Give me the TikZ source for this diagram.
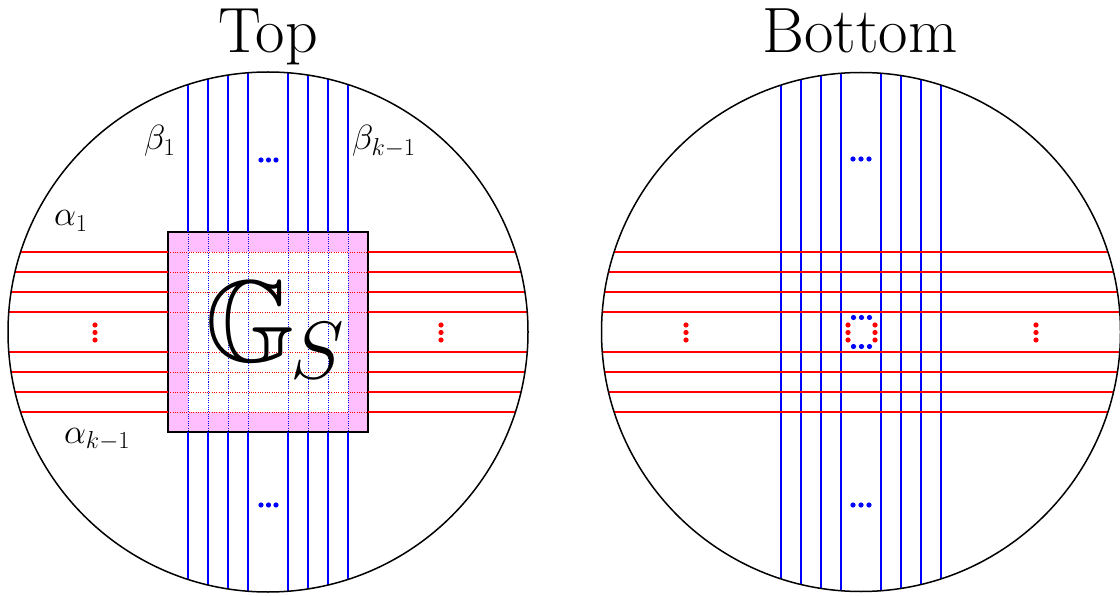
\RequirePackage{fix-cm}
\documentclass[tikz,border=0pt]{standalone}
\IfFileExists{dsfont.sty}{\usepackage{dsfont}}{%
  \IfFileExists{amssymb.sty}{\usepackage{amssymb}\newcommand\mathds{\mathbb}}{\newcommand\mathds{\mathrm}}}
\usetikzlibrary{calc}
\definecolor{pinkfill}{RGB}{255,191,255}
\begin{document}
\begin{tikzpicture}[x=1pt,y=-1pt,
  circ/.style={black,line width=1.5pt},
  bl/.style={blue,line width=1.5pt},
  rd/.style={red,line width=1.4pt},
  bldot/.style={blue,line width=0.9pt,dash pattern=on 1pt off 1.3pt},
  rddot/.style={red,line width=0.9pt,dash pattern=on 1pt off 1.3pt},
  sq/.style={black,line width=1.3pt},
  lab/.style={font=\fontsize{35}{38}\selectfont,inner sep=0pt},
  ttl/.style={font=\fontsize{64}{68}\selectfont,inner sep=0pt},
  bdot/.style={blue},
  rdot/.style={red},
]
\useasboundingbox (0,0) rectangle (1120,596);

% ---------- left circle (Top) ----------
\coordinate (L) at (268,332);
\fill[pinkfill] (168,232) rectangle (368,432);
\fill[white] (188,252) rectangle (348,412);
\foreach \d in {-80,-60,-40,-20,20,40,60,80}{
  \draw[bldot] ($(L)+(\d,-100)$) -- ($(L)+(\d,100)$);
  \draw[rddot] ($(L)+(-100,\d)$) -- ($(L)+(100,\d)$);
}
\draw[sq] (168,232) rectangle (368,432);
\foreach \d in {-80,-60,-40,-20,20,40,60,80}{
  \pgfmathsetmacro\h{100*sqrt(6.76-(\d/100)^2)}
  \draw[bl] ($(L)+(\d,-\h)$) -- ($(L)+(\d,-100)$);
  \draw[bl] ($(L)+(\d,100)$) -- ($(L)+(\d,\h)$);
  \draw[rd] ($(L)+(-\h,\d)$) -- ($(L)+(-100,\d)$);
  \draw[rd] ($(L)+(100,\d)$) -- ($(L)+(\h,\d)$);
}
\draw[circ] (L) circle[radius=260];

% dots left circle
\foreach \x in {261,268.5,276}{
  \fill[bdot] (\x,160) circle[radius=2.6];
  \fill[bdot] (\x,505) circle[radius=2.6];
}
\foreach \y in {325,332.5,340}{
  \fill[rdot] (95,\y) circle[radius=2.6];
  \fill[rdot] (441,\y) circle[radius=2.6];
}

% labels
\node[ttl,anchor=base] (top) at (268,53) {Top};
\node[lab,anchor=base west] (b1) at (144,150) {$\beta_1$};
\node[lab,anchor=base west] (bk) at (352,150) {$\beta_{k-1}$};
\node[lab,anchor=base west] (a1) at (54,226) {$\alpha_1$};
\node[lab,anchor=base west] (ak) at (64,443) {$\alpha_{k-1}$};
\node[anchor=base west,inner sep=0pt,font=\fontsize{116}{120}\selectfont] (gs) at (205,361) {$\mathds{G}_{\mkern-1mu S}$};

% ---------- right circle (Bottom) ----------
\coordinate (R) at (861,332);
\foreach \d in {-80,-60,-40,-20,20,40,60,80}{
  \pgfmathsetmacro\h{100*sqrt(6.734-(\d/100)^2)}
  \draw[bl] ($(R)+(\d,-\h)$) -- ($(R)+(\d,\h)$);
}
\foreach \d in {-80,-60,-40,-20,20,40,60,80}{
  \pgfmathsetmacro\h{100*sqrt(6.734-(\d/100)^2)}
  \draw[rd] ($(R)+(-\h,\d)$) -- ($(R)+(\h,\d)$);
}
\draw[circ] (R) circle[radius=259.5];

\foreach \x in {853,861,869}{
  \fill[bdot] (\x,159) circle[radius=2.6];
  \fill[bdot] (\x,505) circle[radius=2.6];
  \fill[bdot] (\x+0.5,317.5) circle[radius=2.6];
  \fill[bdot] (\x+0.5,346.5) circle[radius=2.6];
}
\foreach \y in {325,332.5,340}{
  \fill[rdot] (686,\y) circle[radius=2.6];
  \fill[rdot] (1036,\y) circle[radius=2.6];
  \fill[rdot] (848,\y) circle[radius=2.6];
  \fill[rdot] (875,\y) circle[radius=2.6];
}
\node[ttl,anchor=base] (bottom) at (860,53) {Bottom};
\end{tikzpicture}
\end{document}
